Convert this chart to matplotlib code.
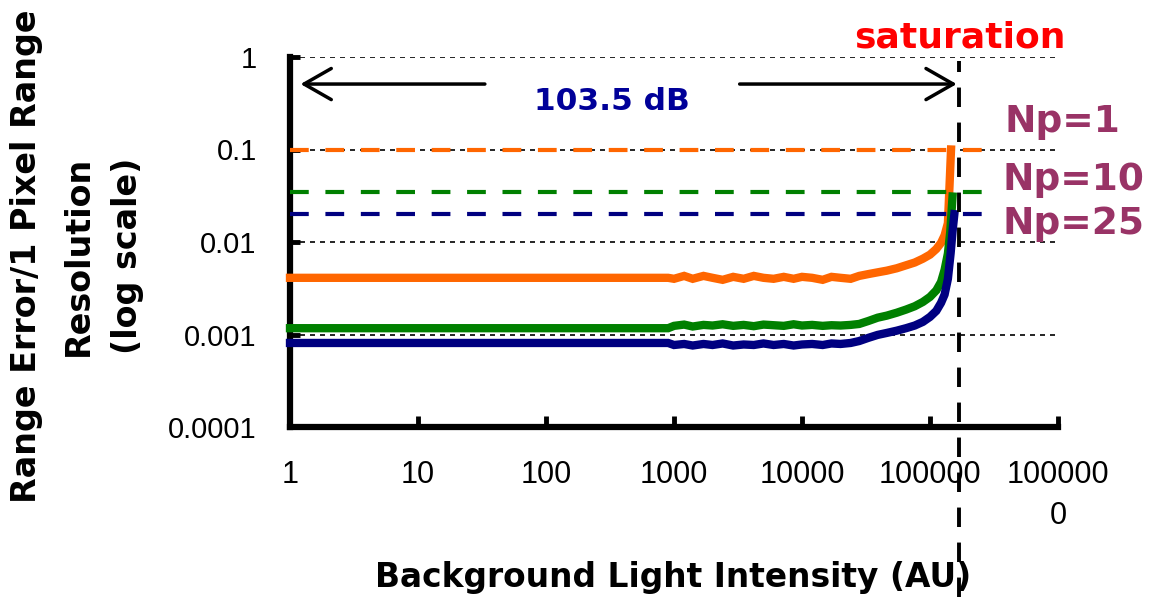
import matplotlib
matplotlib.use("Agg")
import matplotlib.pyplot as plt

# background light intensity (AU) sample points and range-error curves
x_pts = [1, 900, 1000, 1200, 1400, 1700, 2000, 2400, 2900, 3500, 4200, 5000,
         6000, 7200, 8600, 10000, 12000, 14500, 17000, 20000, 24000, 28000,
         33000, 39000, 46000, 55000, 65000, 76000, 88000, 100000, 112000,
         122000, 130000]
err_np1 = [0.0041, 0.0041, 0.0040, 0.0043, 0.0040, 0.0043, 0.0041, 0.0039,
           0.0042, 0.0040, 0.0043, 0.0041, 0.0040, 0.0042, 0.0040, 0.0042,
           0.0041, 0.0039, 0.0042, 0.0041, 0.0040, 0.0043, 0.0045, 0.0047,
           0.0049, 0.0052, 0.0056, 0.0060, 0.0066, 0.0073, 0.0084, 0.0098,
           0.0118]
err_np10 = [0.00117, 0.00117, 0.00124, 0.00128, 0.00122, 0.00127, 0.00125,
            0.00129, 0.00124, 0.00127, 0.00123, 0.00128, 0.00126, 0.00124,
            0.00129, 0.00125, 0.00127, 0.00124, 0.00126, 0.00125, 0.00127,
            0.00130, 0.00140, 0.00152, 0.00160, 0.00172, 0.00186, 0.00202,
            0.00225, 0.00255, 0.0030, 0.0037, 0.0050]
err_np25 = [0.00081, 0.00081, 0.00077, 0.00079, 0.00076, 0.00079, 0.00077,
            0.00080, 0.00076, 0.00078, 0.00077, 0.00080, 0.00077, 0.00079,
            0.00076, 0.00078, 0.00079, 0.00077, 0.00080, 0.00079, 0.00081,
            0.00085, 0.00092, 0.00099, 0.00104, 0.00110, 0.00117, 0.00125,
            0.00137, 0.00155, 0.00180, 0.0022, 0.0027]
# steep tails close to saturation
tail_x_np1 = [138000, 143000, 146000]
tail_np1 = [0.016, 0.05, 0.1]
tail_x_np10 = [138000, 144000, 150000]
tail_np10 = [0.0075, 0.013, 0.031]
tail_x_np25 = [138000, 145000, 150000, 155000]
tail_np25 = [0.0040, 0.0076, 0.013, 0.020]

# resolution thresholds (1 pixel range) per Np
thresholds = [0.1, 0.035, 0.020]
names = ["Np=1", "Np=10", "Np=25"]
colors = ["#FF6600", "#008000", "#000080"]
saturation = 1.7e5

x_ticks = [1, 10, 100, 1000, 10000, 100000, 1000000]
x_ticklabels = ["1", "10", "100", "1000", "10000", "100000", "100000\n0"]
y_ticks = [0.0001, 0.001, 0.01, 0.1, 1]
y_ticklabels = ["0.0001", "0.001", "0.01", "0.1", "1"]

narrow = ["Liberation Sans", "DejaVu Sans"]
heavy = "DejaVu Sans"

fig = plt.figure(figsize=(11.49, 5.98), dpi=100)
ax = fig.add_axes([290 / 1149, 171 / 598, 768 / 1149, 370 / 598])
ax.set_xscale("log")
ax.set_yscale("log")
ax.set_xlim(1, 1e6)
ax.set_ylim(1e-4, 1)

for sp in ["top", "right"]:
    ax.spines[sp].set_visible(False)
for sp in ["left", "bottom"]:
    ax.spines[sp].set_linewidth(4.5)

ax.hlines([1, 0.1, 0.01, 0.001], 1, 1e6, colors="black", lw=1.2,
          linestyles=(0, (3, 3)), zorder=2)

curves = [(x_pts + tail_x_np1, err_np1 + tail_np1),
          (x_pts + tail_x_np10, err_np10 + tail_np10),
          (x_pts + tail_x_np25, err_np25 + tail_np25)]
for (xs, ys), thr, c in zip(curves, thresholds, colors):
    ax.plot(xs, ys, color=c, lw=6, solid_joinstyle="miter", zorder=3,
            clip_on=False)
    ax.plot([1, 3.2e5], [thr, thr], color=c, lw=3, linestyle=(0, (4.5, 4)),
            zorder=3, clip_on=False)

ax.axvline(saturation, ymin=-0.46, ymax=0.99, color="black", lw=2.8,
           linestyle=(0, (5, 4)), clip_on=False, zorder=4)

ax.set_xticks(x_ticks)
ax.set_xticklabels(x_ticklabels, family=narrow, fontsize=22, linespacing=1.45,
                   va="top")
ax.set_yticks(y_ticks)
ax.set_yticklabels(y_ticklabels, family=narrow, fontsize=21)
ax.minorticks_off()
ax.tick_params(axis="x", direction="in", length=8, width=3.5, pad=24)
ax.tick_params(axis="y", direction="in", length=7, width=3.5, pad=24)

# dynamic range arrows
arrow_y = 0.51
ax.annotate("", xy=(1.15, arrow_y), xytext=(35, arrow_y),
            arrowprops=dict(arrowstyle="->,head_length=0.7,head_width=0.4",
                            lw=2.5, color="black", mutation_scale=28))
ax.annotate("", xy=(saturation, arrow_y), xytext=(3100, arrow_y),
            arrowprops=dict(arrowstyle="->,head_length=0.7,head_width=0.4",
                            lw=2.5, color="black", mutation_scale=28))
ax.text(330, 0.33, "103.5 dB", color="#000099", fontsize=22.5,
        fontweight="bold", family=heavy, ha="center", va="center")

ax.text(saturation, 1.64, "saturation", color="#FF0000", fontsize=26,
        fontweight="bold", family=heavy, ha="center", va="center",
        clip_on=False)

label_pos = [(1005, 122), (1002, 180), (1002, 224)]
for name, (px, py) in zip(names, label_pos):
    fig.text(px / 1149, 1 - py / 598, name, color="#993366", fontsize=27,
             fontweight="bold", family=heavy, ha="left", va="center")

ylab = ["Range Error/1 Pixel Range", "Resolution", "(log scale)"]
ylab_x = [27, 78, 128]
for t, px in zip(ylab, ylab_x):
    fig.text(px / 1149, 1 - 256 / 598, t, rotation=90, fontsize=24,
             fontweight="bold", family=heavy, ha="center", va="center")

fig.text(673 / 1149, 1 - 578 / 598, "Background Light Intensity (AU)",
         fontsize=23.7, fontweight="bold", family=heavy, ha="center",
         va="center")

fig.savefig("out.png", dpi=100)
